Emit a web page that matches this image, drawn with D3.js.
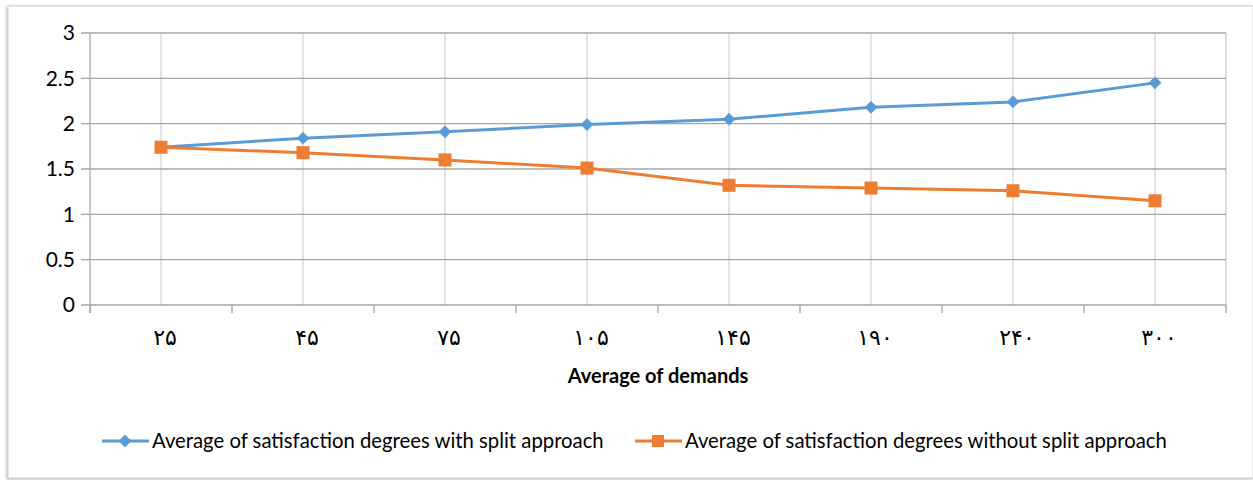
<!DOCTYPE html>
<html>
<head>
<meta charset="utf-8">
<script src="https://cdn.jsdelivr.net/npm/d3@7"></script>
<style>
  html, body { margin: 0; padding: 0; background: #fff; }
  svg { display: block; }
  text { font-family: Lato, "Open Sans", sans-serif; fill: #000; }
</style>
</head>
<body>
<svg id="chart" width="1253" height="480"></svg>
<script>
// Demand levels (Persian numerals) and average satisfaction degrees
const categories = ["۲۵", "۴۵", "۷۵", "۱۰۵", "۱۴۵", "۱۹۰", "۲۴۰", "۳۰۰"];
const withSplit = [1.74, 1.84, 1.91, 1.99, 2.05, 2.18, 2.24, 2.45];
const withoutSplit = [1.74, 1.68, 1.60, 1.51, 1.32, 1.29, 1.26, 1.15];
const yTicks = [0, 0.5, 1, 1.5, 2, 2.5, 3];
const seriesNames = [
  "Average of satisfaction degrees with split approach",
  "Average of satisfaction degrees without split approach"
];
const xTitle = "Average of demands";

const svg = d3.select("#chart");
const W = 1253, H = 480;
const m = { left: 90, right: 27, top: 33, bottom: 175 };
const plotW = W - m.left - m.right;
const plotH = H - m.top - m.bottom;

// Outer chart frame with a soft shadow
const defs = svg.append("defs");
const f = defs.append("filter").attr("id", "shadow").attr("x", "-5%").attr("y", "-5%").attr("width", "110%").attr("height", "110%");
f.append("feDropShadow").attr("dx", -1).attr("dy", 1).attr("stdDeviation", 1.5).attr("flood-color", "#888").attr("flood-opacity", 0.6);
svg.append("rect").attr("x", 8).attr("y", 6).attr("width", W - 8).attr("height", H - 8)
  .attr("fill", "#fff").attr("stroke", "#d0d0d0").attr("filter", "url(#shadow)");

const x = d3.scaleBand().domain(categories).range([m.left, m.left + plotW]).paddingInner(0).paddingOuter(0);
const y = d3.scaleLinear().domain([0, 3]).range([m.top + plotH, m.top]);
const cx = d => x(d) + x.bandwidth() / 2;

const g = svg.append("g");

// Vertical gridlines through category centres and at the right edge
g.selectAll(".vgrid").data(categories).join("line")
  .attr("x1", d => cx(d)).attr("x2", d => cx(d))
  .attr("y1", y(3)).attr("y2", y(0))
  .attr("stroke", "#d4d4d4").attr("stroke-width", 1.3);
g.append("line")
  .attr("x1", m.left + plotW).attr("x2", m.left + plotW)
  .attr("y1", y(3)).attr("y2", y(0))
  .attr("stroke", "#c8c8c8").attr("stroke-width", 1.3);

// Horizontal gridlines with small ticks on the left
g.selectAll(".hgrid").data(yTicks).join("line")
  .attr("x1", m.left - 9).attr("x2", m.left + plotW)
  .attr("y1", d => y(d)).attr("y2", d => y(d))
  .attr("stroke", "#a6a6a6").attr("stroke-width", 1.3);

// Y axis line
g.append("line").attr("x1", m.left).attr("x2", m.left)
  .attr("y1", y(3)).attr("y2", y(0) + 8)
  .attr("stroke", "#a6a6a6").attr("stroke-width", 1.3);

// X tick marks at band boundaries
const bounds = categories.map(d => x(d)).concat([m.left + plotW]);
g.selectAll(".xtick").data(bounds).join("line")
  .attr("x1", d => d).attr("x2", d => d)
  .attr("y1", y(0)).attr("y2", y(0) + 8)
  .attr("stroke", "#a6a6a6").attr("stroke-width", 1.3);

// Y tick labels
g.selectAll(".ylab").data(yTicks).join("text")
  .attr("x", 75).attr("y", d => y(d))
  .attr("dy", "0.35em").attr("text-anchor", "end")
  .style("font-size", "21px")
  .text(d => d3.format("~g")(d));

// X tick labels (Persian digits)
g.selectAll(".xlab").data(categories).join("text")
  .attr("x", d => cx(d) + 4).attr("y", 337)
  .attr("dy", "0.35em").attr("text-anchor", "middle")
  .style("font-family", "'DejaVu Sans', sans-serif")
  .style("font-size", "22px").style("letter-spacing", "8px")
  .text(d => d);

// Axis title
svg.append("text").attr("x", 658).attr("y", 376)
  .attr("dy", "0.35em").attr("text-anchor", "middle")
  .style("font-size", "20px").style("font-weight", "bold")
  .text(xTitle);

const line = d3.line().x((d, i) => cx(categories[i])).y(d => y(d));
const blue = "#5b9bd5", orange = "#ed7d31";

svg.append("path").datum(withSplit).attr("d", line)
  .attr("fill", "none").attr("stroke", blue).attr("stroke-width", 3);
svg.append("path").datum(withoutSplit).attr("d", line)
  .attr("fill", "none").attr("stroke", orange).attr("stroke-width", 3);

const diamond = d3.symbol().type(d3.symbolDiamond2).size(105);
svg.selectAll(".mk1").data(withSplit).join("path")
  .attr("d", diamond)
  .attr("transform", (d, i) => `translate(${cx(categories[i])},${y(d)})`)
  .attr("fill", blue);
const sq = 13;
svg.selectAll(".mk2").data(withoutSplit).join("rect")
  .attr("x", (d, i) => cx(categories[i]) - sq / 2)
  .attr("y", d => y(d) - sq / 2)
  .attr("width", sq).attr("height", sq)
  .attr("fill", orange);

// Legend
const legend = [
  { x: 102, color: blue, type: "diamond", name: seriesNames[0] },
  { x: 635, color: orange, type: "square", name: seriesNames[1] }
];
const ly = 441;
legend.forEach(l => {
  svg.append("line").attr("x1", l.x).attr("x2", l.x + 47)
    .attr("y1", ly).attr("y2", ly).attr("stroke", l.color).attr("stroke-width", 3);
  if (l.type === "diamond") {
    svg.append("path").attr("d", diamond)
      .attr("transform", `translate(${l.x + 23},${ly})`)
      .attr("fill", l.color);
  } else {
    svg.append("rect").attr("x", l.x + 23 - 6).attr("y", ly - 6)
      .attr("width", 12).attr("height", 12).attr("fill", l.color);
  }
  svg.append("text").attr("x", l.x + 50).attr("y", ly).attr("dy", "0.35em")
    .style("font-size", "20.3px").text(l.name);
});
</script>
</body>
</html>
